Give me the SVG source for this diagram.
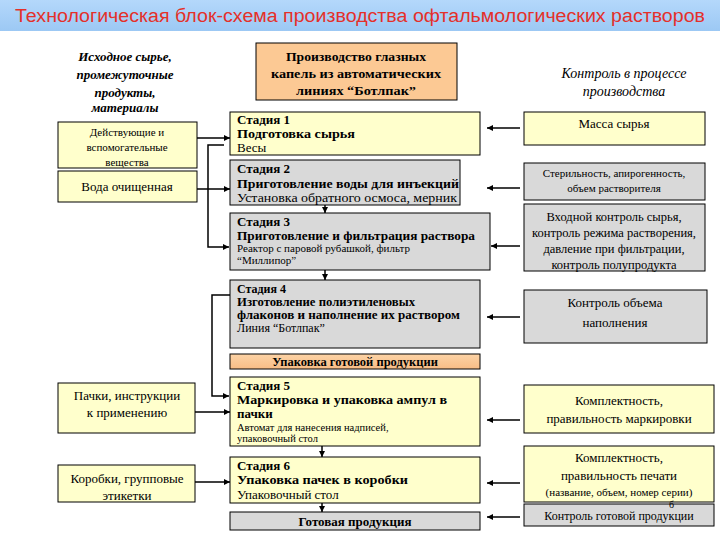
<svg xmlns="http://www.w3.org/2000/svg" width="720" height="540" viewBox="0 0 720 540" font-family="'Liberation Serif', 'Times New Roman', 'DejaVu Serif', serif">
<defs>
<linearGradient id="tb" x1="0" y1="0" x2="0" y2="1"><stop offset="0" stop-color="#b4d8fb"/><stop offset="1" stop-color="#9cc8f4"/></linearGradient>
<linearGradient id="pe" x1="0" y1="0" x2="0" y2="1"><stop offset="0" stop-color="#fcd3a6"/><stop offset="1" stop-color="#f8bd86"/></linearGradient>
<marker id="ar" viewBox="0 0 10 10" refX="10" refY="5" markerWidth="6" markerHeight="6" orient="auto" markerUnits="userSpaceOnUse"><path d="M0,0 L10,5 L0,10 z" fill="#000"/></marker>
</defs>
<style>
.s{fill:#000}
.b{font-weight:bold}
.i{font-style:italic}
.c{text-anchor:middle}
.y{fill:#ffffcc;stroke:#000;stroke-width:1}
.g{fill:#d9d9d9;stroke:#000;stroke-width:1}
.p{fill:url(#pe);stroke:#000;stroke-width:1}
.ln{fill:none;stroke:#000;stroke-width:1.5}
</style>
<rect width="720" height="540" fill="#fff"/>
<g id="title">
<rect x="0" y="0" width="720" height="31" fill="url(#tb)"/>
<text x="360" y="22" text-anchor="middle" font-family="'Liberation Sans', Arial, sans-serif" font-size="18" fill="#e4302a" textLength="690" lengthAdjust="spacingAndGlyphs">Технологическая блок-схема производства офтальмологических растворов</text>
</g>
<g id="hdr-left" font-size="13">
<text class="s i b c" x="125" y="61">Исходное сырье,</text>
<text class="s i b c" x="125" y="79">промежуточные</text>
<text class="s i b c" x="125" y="97">продукты,</text>
<text class="s i b c" x="125" y="112">материалы</text>
</g>
<g id="hdr-mid">
<rect x="256" y="43" width="201" height="57" fill="#fcc994" stroke="#000"/>
<text class="s b c" x="356" y="61" font-size="13.5" textLength="140" lengthAdjust="spacingAndGlyphs">Производство глазных</text>
<text class="s b c" x="356" y="78" font-size="13.5" textLength="170" lengthAdjust="spacingAndGlyphs">капель из автоматических</text>
<text class="s b c" x="356" y="95" font-size="13.5" textLength="120" lengthAdjust="spacingAndGlyphs">линиях “Ботлпак”</text>
</g>
<g id="hdr-right">
<text class="s i c" x="624" y="78" font-size="14">Контроль в процессе</text>
<text class="s i c" x="624" y="96" font-size="14">производства</text>
</g>
<g id="in1"><rect class="y" x="58" y="122" width="139" height="46"/>
<text class="s c" x="127" y="136" font-size="11">Действующие и</text>
<text class="s c" x="127" y="151" font-size="11">вспомогательные</text>
<text class="s c" x="127" y="166" font-size="11">вещества</text></g>
<g id="in2"><rect class="y" x="58" y="171" width="139" height="31"/>
<text class="s c" x="127" y="191" font-size="13">Вода очищенная</text></g>
<g id="in3"><rect class="y" x="58" y="383" width="137" height="50"/>
<text class="s c" x="127" y="400" font-size="13">Пачки, инструкции</text>
<text class="s c" x="127" y="417" font-size="13">к применению</text></g>
<g id="in4"><rect class="y" x="58" y="465" width="137" height="37"/>
<text class="s c" x="127" y="483" font-size="13">Коробки, групповые</text>
<text class="s c" x="127" y="500" font-size="13">этикетки</text></g>
<g id="st1"><rect class="y" x="230" y="112" width="250" height="43"/>
<text class="s b" x="237" y="124" font-size="13">Стадия 1</text>
<text class="s b" x="237" y="138" font-size="13" textLength="118" lengthAdjust="spacingAndGlyphs">Подготовка сырья</text>
<text class="s" x="237" y="152" font-size="13">Весы</text></g>
<g id="st2"><rect class="g" x="230" y="160" width="230" height="45"/>
<text class="s b" x="237" y="173" font-size="13">Стадия 2</text>
<text class="s b" x="237" y="188" font-size="13" textLength="222" lengthAdjust="spacingAndGlyphs">Приготовление воды для инъекций</text>
<text class="s" x="237" y="202" font-size="12" textLength="220" lengthAdjust="spacingAndGlyphs">Установка обратного осмоса, мерник</text></g>
<g id="st3"><rect class="g" x="230" y="213" width="260" height="57"/>
<text class="s b" x="237" y="226" font-size="13">Стадия 3</text>
<text class="s b" x="237" y="240" font-size="13" textLength="238" lengthAdjust="spacingAndGlyphs">Приготовление  и фильтрация раствора</text>
<text class="s" x="237" y="252" font-size="11">Реактор с паровой рубашкой, фильтр</text>
<text class="s" x="237" y="264" font-size="11">“Миллипор”</text></g>
<g id="st4"><rect class="g" x="230" y="280" width="250" height="68"/>
<text class="s b" x="237" y="293" font-size="12">Стадия 4</text>
<text class="s b" x="237" y="306" font-size="12.5" textLength="178" lengthAdjust="spacingAndGlyphs">Изготовление полиэтиленовых</text>
<text class="s b" x="237" y="319" font-size="12.5" textLength="223" lengthAdjust="spacingAndGlyphs">флаконов и наполнение их раствором</text>
<text class="s" x="237" y="332" font-size="12">Линия “Ботлпак”</text></g>
<g id="pack"><rect class="p" x="230" y="354" width="250" height="15"/>
<text class="s b c" x="355" y="366" font-size="12.5">Упаковка готовой продукции</text></g>
<g id="st5"><rect class="y" x="230" y="377" width="250" height="69"/>
<text class="s b" x="237" y="390" font-size="13">Стадия 5</text>
<text class="s b" x="237" y="404" font-size="13" textLength="210" lengthAdjust="spacingAndGlyphs">Маркировка и упаковка ампул в</text>
<text class="s b" x="237" y="418" font-size="13">пачки</text>
<text class="s" x="237" y="431" font-size="10.5">Автомат для нанесения надписей,</text>
<text class="s" x="237" y="442" font-size="10.5">упаковочный стол</text></g>
<g id="st6"><rect class="y" x="230" y="457" width="250" height="46"/>
<text class="s b" x="237" y="470" font-size="13">Стадия 6</text>
<text class="s b" x="237" y="484" font-size="13" textLength="171" lengthAdjust="spacingAndGlyphs">Упаковка пачек в коробки</text>
<text class="s" x="237" y="499" font-size="13">Упаковочный стол</text></g>
<g id="done"><rect class="g" x="230" y="512" width="250" height="18"/>
<text class="s b c" x="355" y="526" font-size="13">Готовая продукция</text></g>
<g id="k1"><rect class="y" x="524" y="112" width="181" height="33"/>
<text class="s c" x="614" y="128" font-size="13">Масса сырья</text></g>
<g id="k2"><rect class="g" x="524" y="163" width="181" height="37"/>
<text class="s c" x="614" y="177" font-size="11">Стерильность, апирогенность,</text>
<text class="s c" x="614" y="192" font-size="11">объем растворителя</text></g>
<g id="k3"><rect class="g" x="524" y="204" width="181" height="67"/>
<text class="s c" x="614" y="221" font-size="12.5">Входной контроль сырья,</text>
<text class="s c" x="614" y="237" font-size="12.5">контроль режима растворения,</text>
<text class="s c" x="614" y="253" font-size="12.5">давление при фильтрации,</text>
<text class="s c" x="614" y="269" font-size="12.5">контроль полупродукта</text></g>
<g id="k4"><rect class="g" x="524" y="290" width="183" height="53"/>
<text class="s c" x="615" y="307" font-size="13">Контроль объема</text>
<text class="s c" x="615" y="327" font-size="13">наполнения</text></g>
<g id="k5"><rect class="y" x="524" y="385" width="190" height="48"/>
<text class="s c" x="619" y="405" font-size="13">Комплектность,</text>
<text class="s c" x="619" y="423" font-size="13">правильность маркировки</text></g>
<g id="k6"><rect class="y" x="524" y="446" width="190" height="56"/>
<text class="s c" x="619" y="462" font-size="13">Комплектность,</text>
<text class="s c" x="619" y="480" font-size="13">правильность печати</text>
<text class="s c" x="619" y="496" font-size="11">(название, объем, номер серии)</text></g>
<g id="k7"><rect class="g" x="524" y="504" width="190" height="22"/>
<text class="s c" x="619" y="520" font-size="12">Контроль готовой продукции</text>
<text class="s" x="669" y="508" font-size="10">б</text></g>
<g id="connectors" class="ln">
<path d="M197,138 H230" marker-end="url(#ar)"/>
<path d="M197,189 H230" marker-end="url(#ar)"/>
<path d="M224,145 H208 V247 H229" marker-end="url(#ar)"/>
<path d="M325,205 V213" marker-end="url(#ar)"/>
<path d="M325,270 V280" marker-end="url(#ar)"/>
<path d="M230,295 H212 V396 H229" marker-end="url(#ar)"/>
<path d="M195,412 H230" marker-end="url(#ar)"/>
<path d="M195,482 H230" marker-end="url(#ar)"/>
<path d="M322,446 V457" marker-end="url(#ar)"/>
<path d="M322,503 V512" marker-end="url(#ar)"/>
<path d="M520,128 H487" marker-end="url(#ar)"/>
<path d="M520,188 H487" marker-end="url(#ar)"/>
<path d="M520,246 H491" marker-end="url(#ar)"/>
<path d="M520,317 H487" marker-end="url(#ar)"/>
<path d="M520,420 H487" marker-end="url(#ar)"/>
<path d="M520,483 H487" marker-end="url(#ar)"/>
<path d="M520,517 H487" marker-end="url(#ar)"/>
</g>
</svg>
